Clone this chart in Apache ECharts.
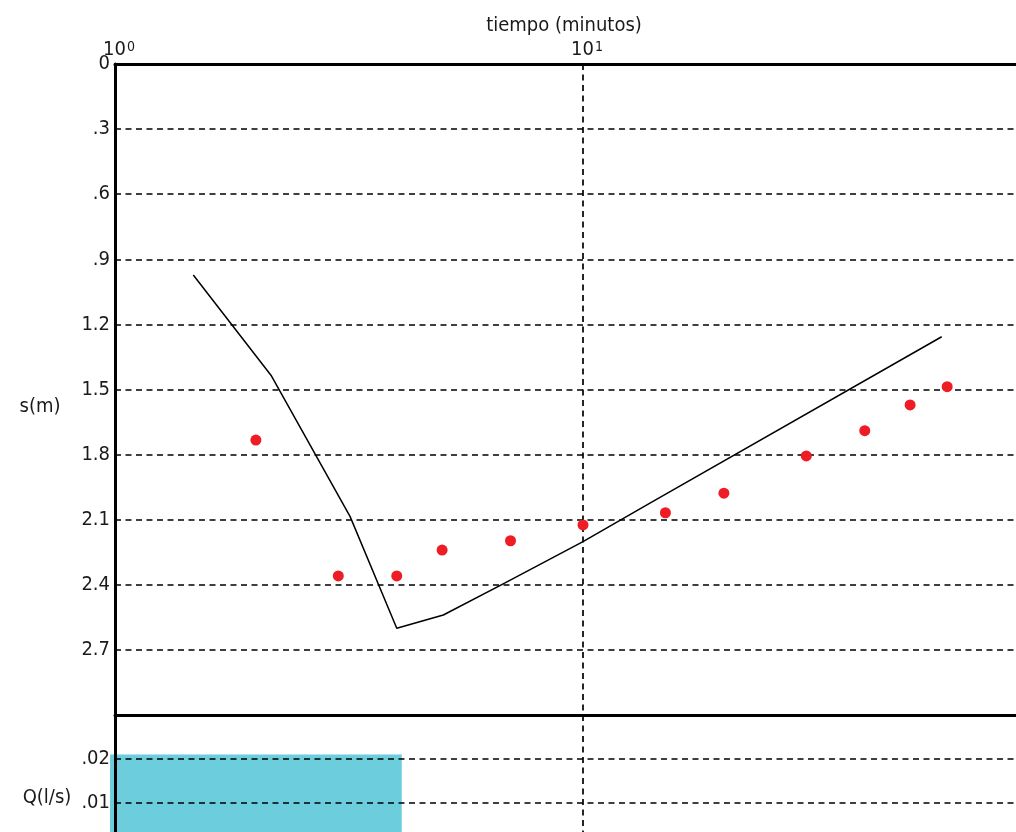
<!DOCTYPE html>
<html>
<head>
<meta charset="utf-8">
<script src="https://cdn.jsdelivr.net/npm/echarts@6/dist/echarts.min.js"></script>
<style>
html,body{margin:0;padding:0;background:#fff;}
#chart{width:1016px;height:832px;}
</style>
</head>
<body>
<div id="chart"></div>
<script>
// ---- data ----
const obsTime = [2, 3, 4, 5, 7, 10, 15, 20, 30, 40, 50, 60];
const obsDrawdown = [1.733, 2.359, 2.359, 2.240, 2.197, 2.124, 2.068, 1.978, 1.806, 1.690, 1.571, 1.487];
const calcTime = [1.47, 2.16, 3.18, 4.0, 5.03, 6.8, 10, 13.9, 58.4];
const calcDrawdown = [0.972, 1.438, 2.086, 2.600, 2.539, 2.392, 2.201, 2.024, 1.257];
const pumpStart = [0.976];
const pumpEnd = [4.1];
const pumpRate = [0.021];
const xTitle = 'tiempo (minutos)';
const yTitle = 's(m)';
const qTitle = 'Q(l/s)';

// font detection
function hasFont(name){
  const c = document.createElement('canvas').getContext('2d');
  c.font = '24px monospace'; const a = c.measureText('tiempo (minutos) 1.2').width;
  c.font = '24px "' + name + '", monospace'; const b = c.measureText('tiempo (minutos) 1.2').width;
  return Math.abs(a - b) > 0.5;
}
let F, FS, SS;
if (hasFont('Liberation Sans Narrow')) { F = '"Liberation Sans Narrow"'; FS = 24; SS = 16; }
else if (hasFont('DejaVu Sans Condensed')) { F = '"DejaVu Sans Condensed"'; FS = 20; SS = 14; }
else { F = '"Liberation Sans", Arial, sans-serif'; FS = 20; SS = 14; }

const obs = obsTime.map((t, i) => [t, obsDrawdown[i]]);
const calc = calcTime.map((t, i) => [t, calcDrawdown[i]]);
const pump = pumpStart.map((s, i) => [s, pumpEnd[i], pumpRate[i]]);

const dashed = { show: true, lineStyle: { color: '#000', width: 1.7, type: [6, 4.5] } };
const solidAxis = { show: true, onZero: false, lineStyle: { color: '#000', width: 3 } };

const chart = echarts.init(document.getElementById('chart'), null, { renderer: 'canvas' });
chart.setOption({
  backgroundColor: '#fff',
  animation: false,
  grid: [
    { left: 115, top: 64, width: 936, height: 651, outerBoundsMode: 'none', containLabel: false },
    { left: 115, top: 715, width: 936, height: 132, outerBoundsMode: 'none', containLabel: false }
  ],
  xAxis: [
    {
      gridIndex: 0, type: 'log', logBase: 10, min: 1, max: 100, position: 'top',
      axisLine: solidAxis, axisTick: { show: false },
      splitLine: dashed, minorSplitLine: { show: false },
      axisLabel: {
        margin: 4, color: '#1a1a1a', verticalAlign: 'bottom',
        formatter: v => '{p|}{b|10}{s|' + Math.round(Math.log10(v)) + '}',
        rich: {
          p: { width: 8, fontSize: SS, fontFamily: F },
          b: { fontSize: FS, fontFamily: F, color: '#1a1a1a', lineHeight: FS },
          s: { fontSize: SS, fontFamily: F, color: '#1a1a1a', verticalAlign: 'top', lineHeight: SS, padding: [0, 0, 0, 1] }
        }
      }
    },
    {
      gridIndex: 1, type: 'log', logBase: 10, min: 1, max: 100, position: 'top',
      axisLine: solidAxis, axisTick: { show: false }, axisLabel: { show: false },
      splitLine: dashed, minorSplitLine: { show: false }
    }
  ],
  yAxis: [
    {
      gridIndex: 0, type: 'value', inverse: true, min: 0, max: 3, interval: 0.3,
      axisLine: solidAxis, axisTick: { show: false }, splitLine: dashed,
      axisLabel: {
        margin: 5, color: '#1a1a1a', fontSize: FS, fontFamily: F, showMaxLabel: false,
        formatter: v => v === 0 ? '0' : (Math.round(v * 10) / 10).toString().replace(/^0\./, '.')
      }
    },
    {
      gridIndex: 1, type: 'value', min: 0, max: 0.03, interval: 0.01,
      axisLine: solidAxis, axisTick: { show: false }, splitLine: dashed,
      axisLabel: {
        margin: 5, color: '#1a1a1a', fontSize: FS, fontFamily: F, showMaxLabel: false, showMinLabel: false,
        formatter: v => (Math.round(v * 100) / 100).toString().replace(/^0\./, '.')
      }
    }
  ],
  series: [
    {
      type: 'custom', xAxisIndex: 1, yAxisIndex: 1, z: -1, clip: false,
      encode: { x: [0, 1], y: 2 },
      data: pump,
      renderItem: (params, api) => {
        const p0 = api.coord([api.value(0), api.value(2)]);
        const p1 = api.coord([api.value(1), 0]);
        return { type: 'rect',
          shape: { x: p0[0], y: p0[1], width: p1[0] - p0[0], height: p1[1] - p0[1] },
          style: { fill: '#6ccddc' } };
      }
    },
    {
      type: 'line', xAxisIndex: 0, yAxisIndex: 0, data: calc, symbol: 'none',
      lineStyle: { color: '#000', width: 1.5 }, z: 3
    },
    {
      type: 'scatter', xAxisIndex: 0, yAxisIndex: 0, data: obs, symbol: 'circle', symbolSize: 11,
      itemStyle: { color: '#ee1c25', opacity: 1 }, z: 4
    }
  ],
  graphic: [
    { type: 'text', x: 564, y: 26, style: { text: xTitle, font: FS + 'px ' + F, fill: '#1a1a1a', align: 'center', verticalAlign: 'middle' } },
    { type: 'text', x: 40, y: 407, style: { text: yTitle, font: FS + 'px ' + F, fill: '#1a1a1a', align: 'center', verticalAlign: 'middle' } },
    { type: 'text', x: 47, y: 798, style: { text: qTitle, font: FS + 'px ' + F, fill: '#1a1a1a', align: 'center', verticalAlign: 'middle' } }
  ]
});
</script>
</body>
</html>
